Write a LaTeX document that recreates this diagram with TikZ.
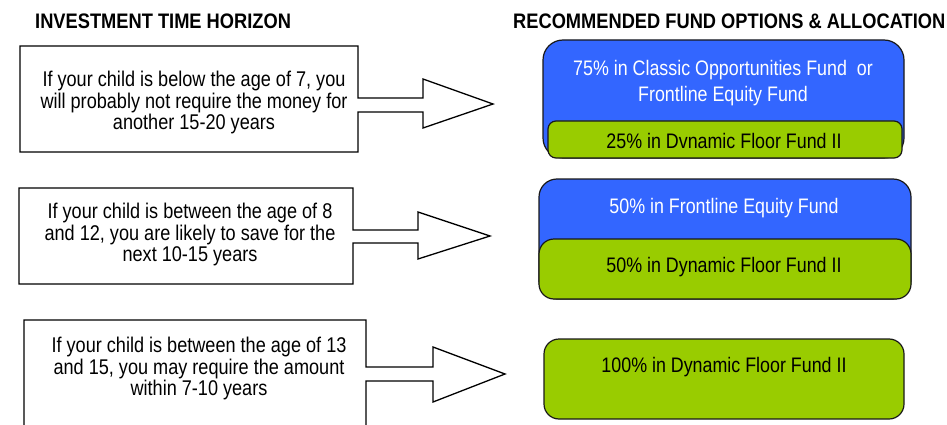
\documentclass[tikz,border=0pt]{standalone}
\usepackage{fontspec}
\setmainfont{Liberation Sans}[FakeStretch=0.85]
\newfontfamily\headfont{Liberation Sans}[FakeStretch=0.87]
\definecolor{fundblue}{HTML}{3366FF}
\definecolor{fundgreen}{HTML}{99CC00}
\begin{document}
\begin{tikzpicture}[x=1pt,y=-1pt,
  callout/.style={draw=black, line width=1.3pt, fill=white, line join=miter},
  body/.style={align=center, font=\fontsize{21.3}{21.6}\selectfont, inner sep=0pt},
  head/.style={font=\headfont\bfseries\fontsize{21}{22}\selectfont, inner sep=0pt, anchor=base west},
  fund/.style={draw=black!90, line width=1.2pt},
  ftext/.style={font=\fontsize{21}{26}\selectfont, inner sep=0pt, align=center}]
\useasboundingbox (0,0) rectangle (947,425);
\clip (0,0) rectangle (947,425);

% headings
\node[head] (h1) at (35,29) {INVESTMENT TIME HORIZON};
\node[head] (h2) at (513,29) {RECOMMENDED FUND OPTIONS \& ALLOCATION};

% callout 1
\draw[callout] (20,46) -- (358,46) -- (358,98) -- (423,98) -- (423,79) -- (493,104)
  -- (423,128) -- (423,112) -- (358,112) -- (358,152) -- (20,152) -- cycle;
\node[body] (c1) at (194,102.5) {If your child is below the age of 7, you\\will probably not require the money for\\another 15-20 years};

% callout 2
\draw[callout] (19,188) -- (353,188) -- (353,230) -- (418,230) -- (418,212) -- (490,236)
  -- (418,259) -- (418,243) -- (353,243) -- (353,284) -- (19,284) -- cycle;
\node[body] (c2) at (190,234.5) {If your child is between the age of 8\\and 12, you are likely to save for the\\next 10-15 years};

% callout 3
\draw[callout] (24,450) -- (24,320) -- (366,320) -- (366,367) -- (433,367) -- (433,347) -- (505,374)
  -- (433,402) -- (433,381) -- (366,381) -- (366,450);
\node[body] (c3) at (199,368.5) {If your child is between the age of 13\\and 15, you may require the amount\\within 7-10 years};

% fund group 1
\draw[fund, fill=fundblue, rounded corners=20pt] (543,40) rectangle (904,158);
\draw[fund, fill=fundgreen, rounded corners=8pt] (548,121) rectangle (902,158);
\node[ftext, text=white] (f1a) at (723,82.6) {75\% in Classic Opportunities Fund\ \ or\\Frontline Equity Fund};
\node[ftext, anchor=base] (f1b) at (724,149) {25\% in Dvnamic Floor Fund II};

% fund group 2
\draw[fund, fill=fundblue, rounded corners=18pt] (539,179) rectangle (911,299);
\draw[fund, fill=fundgreen, rounded corners=15pt] (539,239) rectangle (911,299);
\node[ftext, anchor=base, text=white] (f2a) at (724,213) {50\% in Frontline Equity Fund};
\node[ftext, anchor=base] (f2b) at (724,272) {50\% in Dynamic Floor Fund II};

% fund group 3
\draw[fund, fill=fundgreen, rounded corners=15pt] (544,339) rectangle (904,419);
\node[ftext, anchor=base] (f3) at (724,372) {100\% in Dynamic Floor Fund II};
\end{tikzpicture}
\end{document}
